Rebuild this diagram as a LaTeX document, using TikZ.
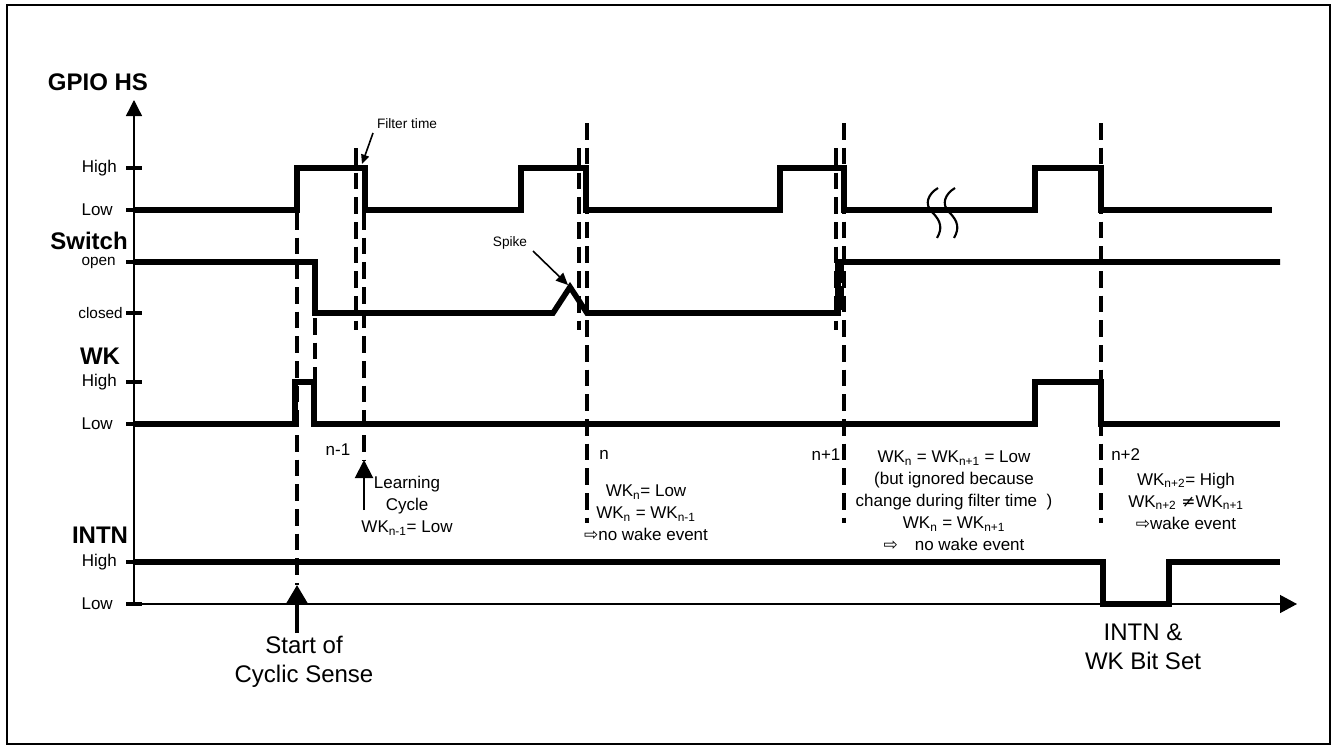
\documentclass[tikz,border=0pt]{standalone}
\usepackage{fontspec}
\setmainfont{Liberation Sans}
\newfontfamily\symfont{DejaVu Sans}
\usetikzlibrary{arrows.meta}
\newcommand{\rarr}{{\symfont\char"21E8}}
\newcommand{\neqs}{{\symfont\char"2260}}
\newcommand{\sbs}[1]{\textsubscript{#1}}
\begin{document}
\begin{tikzpicture}[x=0.75pt,y=-0.75pt,
  sig/.style={line width=4.2pt, line join=miter},
  dsh/.style={line width=3pt, dash pattern=on 12.5pt off 6pt},
  tickmark/.style={line width=2.6pt},
  axis/.style={line width=1pt},
  lvl/.style={font=\fontsize{12.75}{14}\selectfont, anchor=east, inner sep=0pt},
  lvls/.style={font=\fontsize{11.5}{13}\selectfont, anchor=east, inner sep=0pt},
  ttl/.style={font=\bfseries\fontsize{18}{20}\selectfont, inner sep=0pt},
  note/.style={font=\fontsize{12.75}{16.5}\selectfont, align=center, inner sep=0pt},
  big/.style={font=\fontsize{18}{21.75}\selectfont, align=center, inner sep=0pt},
  small/.style={font=\fontsize{10.25}{12}\selectfont, inner sep=0pt},
  idx/.style={font=\fontsize{12.75}{14}\selectfont, inner sep=0pt},
  brk/.style={line width=1.6pt},
]
\useasboundingbox (0,0) rectangle (1337,749);
\draw[line width=1.1pt] (7,5) rectangle (1330,744);

% axes
\coordinate (orig) at (134,604);
\coordinate (ytop) at (134,100);
\coordinate (xend) at (1297,604);
\draw[axis, -{Triangle[length=12pt,width=12pt]}] (orig) -- (ytop);
\draw[axis, -{Triangle[length=12.75pt,width=13.5pt]}] (orig) -- (xend);

% ticks
\foreach \yy in {168,210,262,313,382,424,562,604}
  \draw[tickmark] (126,\yy) -- (142,\yy);

% titles
\node[ttl] (tgpio) at (98,82) {GPIO HS};
\node[ttl] (tsw) at (89,241) {Switch};
\node[ttl] (twk) at (100,356) {WK};
\node[ttl] (tintn) at (100,535) {INTN};

% level labels
\node[lvl] (lgh) at (117,168) {High};
\node[lvl] (lgl) at (113,210) {Low};
\node[lvls] (lso) at (116,263) {open};
\node[lvls] (lsc) at (123,313) {closed};
\node[lvl] (lwh) at (117,382) {High};
\node[lvl] (lwl) at (113,424) {Low};
\node[lvl] (lih) at (117,562) {High};
\node[lvl] (lil) at (113,604) {Low};

% dashed markers
\draw[dsh] (297,213) -- (297,585);
\draw[dsh] (315,318) -- (315,382);
\draw[dsh] (356,148) -- (356,330);
\draw[dsh] (364,213) -- (364,460);
\draw[dsh] (579,148) -- (579,330);
\draw[dsh] (587,123) -- (587,523);
\draw[dsh] (836,148) -- (836,330);
\draw[dsh] (844,123) -- (844,523);
\draw[dsh] (1101,123) -- (1101,523);

% signals
\draw[sig] (134,210) -- (297,210) -- (297,168) -- (365,168) -- (365,210)
  -- (521,210) -- (521,168) -- (586,168) -- (586,210)
  -- (780,210) -- (780,168) -- (844,168) -- (844,210)
  -- (1035,210) -- (1035,168) -- (1101,168) -- (1101,210) -- (1272,210);
\draw[sig] (134,262) -- (315,262) -- (315,313) -- (553,313) -- (570,287)
  -- (587,313) -- (838,313) -- (838,262) -- (1280,262);
\draw[line width=6.5pt, dash pattern=on 18pt off 2pt] (840,259) -- (840,311);
\draw[sig] (134,424) -- (295,424) -- (295,382) -- (314,382) -- (314,424)
  -- (1035,424) -- (1035,382) -- (1101,382) -- (1101,424) -- (1280,424);
\draw[sig] (134,562) -- (1103,562) -- (1103,604) -- (1169,604) -- (1169,562) -- (1280,562);

% break marks
\foreach \xx in {938,955}
  \draw[brk] (\xx,188) .. controls (\xx-10,194) and (\xx-14,204) .. (\xx-6,212)
    .. controls (\xx+4,222) and (\xx+4,229) .. (\xx-1,238);

% annotations
\node[small] (ft) at (407,124) {Filter time};
\coordinate (ftstart) at (373,133);
\coordinate (fttip) at (362,164);
\draw[line width=1.2pt, -{Triangle[length=7pt,width=6pt]}] (ftstart) -- (fttip);

\node[small] (sp) at (510,243) {Spike};
\coordinate (spstart) at (533,251);
\coordinate (sptip) at (568,285);
\draw[line width=1.2pt, -{Triangle[length=9pt,width=8pt]}] (spstart) -- (sptip);

\coordinate (lcbase) at (364,510);
\coordinate (lctip) at (364,460);
\draw[line width=1.5pt, -{Triangle[length=13.5pt,width=13.5pt]}] (lcbase) -- (lctip);

\coordinate (scbase) at (297,633);
\coordinate (sctip) at (297,585);
\draw[line width=3pt, -{Triangle[length=13.5pt,width=15pt]}] (scbase) -- (sctip);

% index labels
\node[idx] (inm1) at (338,450) {n-1};
\node[idx, anchor=west] (in) at (599,455) {n};
\node[idx] (inp1) at (826,455) {n+1};
\node[idx, anchor=west] (inp2) at (1111,455) {n+2};

% notes
\node[note] (lc) at (407,506) {Learning\\Cycle\\WK\sbs{n-1}= Low};
\node[note] (nn) at (646,513) {WK\sbs{n}= Low\\WK\sbs{n} = WK\sbs{n-1}\\\rarr no wake event};
\node[note] (nn1) at (954,501) {WK\sbs{n} = WK\sbs{n+1} = Low\\(but ignored because\\change during filter time~~)\\WK\sbs{n} = WK\sbs{n+1}\\\rarr\quad no wake event};
\node[note] (nn2) at (1186,501) {WK\sbs{n+2}= High\\WK\sbs{n+2} \neqs WK\sbs{n+1}\\\rarr wake event};

% bottom labels
\node[big] (sc) at (304,662) {Start of\\Cyclic Sense};
\node[big] (iw) at (1143,647) {INTN \&\\WK Bit Set};
\end{tikzpicture}
\end{document}
